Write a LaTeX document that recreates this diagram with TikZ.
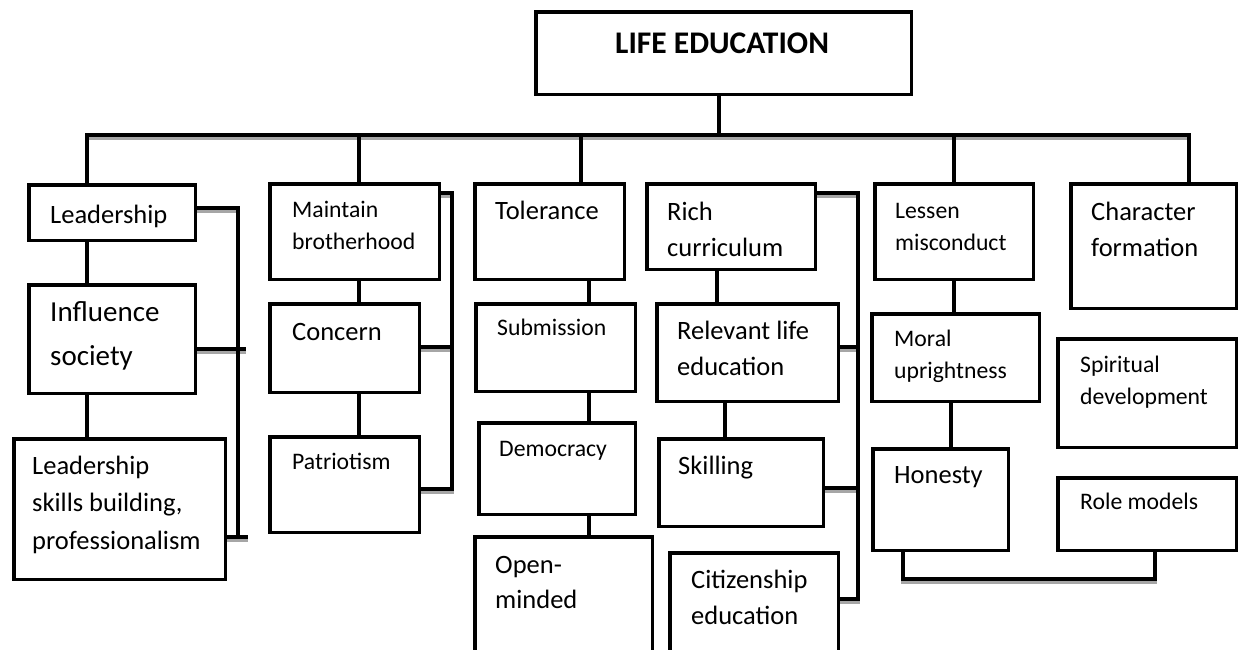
\documentclass[tikz,border=0pt]{standalone}
\usepackage{fontspec}
\setmainfont{Carlito}
\usepackage{tikz}
\usetikzlibrary{backgrounds}
\tikzstyle{box} = [draw, line width=3.5pt, fill=white, anchor=north west, inner sep=0pt]
\tikzstyle{conn} = [line width=3.8pt, line join=miter]
\tikzstyle{txt} = [anchor=base west, inner sep=0pt, text width=230pt, align=flush left, font=\fontsize{26.5}{36}\selectfont]
\tikzstyle{small} = [font=\fontsize{23.7}{32.5}\selectfont]

\begin{document}
\begin{tikzpicture}[x=1pt, y=-1pt]
\useasboundingbox (0,0) rectangle (1238,649);
\clip (0,0) rectangle (1238,649);
% Root
\node (top) [box, minimum width=375.5, minimum height=82.5] at (534,10) {};
\node (top_t) [txt, font=\bfseries\fontsize{31.5}{36}\selectfont] at (615,53) {LIFE EDUCATION};

% Column 1
\node (lead) [box, minimum width=166.5, minimum height=55.5] at (27,183) {};
\node (infl) [box, minimum width=166.5, minimum height=108.5] at (27,283) {};
\node (lead_skill) [box, minimum width=211.5, minimum height=140.5] at (12,437) {};
\node (lead_t) [txt] at (50,223) {Leadership};
\node (infl_t) [txt, font=\fontsize{29}{44}\selectfont] at (50,321) {Influence\\society};
\node (lead_skill_t) [txt, font=\fontsize{26.5}{37.5}\selectfont] at (32,474) {Leadership\\skills building,\\professionalism};

% Column 2
\node (maint) [box, minimum width=169.5, minimum height=95.5] at (268,182) {};
\node (concern) [box, minimum width=149.5, minimum height=88.5] at (268,302) {};
\node (patri) [box, minimum width=149.5, minimum height=95.5] at (268,435) {};
\node (maint_t) [txt, small] at (292,217) {Maintain\\brotherhood};
\node (concern_t) [txt] at (292,340) {Concern};
\node (patri_t) [txt, small] at (292,469) {Patriotism};

% Column 3
\node (toler) [box, minimum width=149.5, minimum height=95.5] at (473,182) {};
\node (subm) [box, minimum width=159.5, minimum height=87.5] at (474,302) {};
\node (democ) [box, minimum width=156.5, minimum height=91.5] at (477,421) {};
\node (openm) [box, minimum width=177.5, minimum height=130] at (473,535) {};
\node (toler_t) [txt] at (495,219) {Tolerance};
\node (subm_t) [txt, small] at (497,335) {Submission};
\node (democ_t) [txt, small] at (499,456) {Democracy};
\node (openm_t) [txt, font=\fontsize{26.5}{35}\selectfont] at (495,573) {Open-\\minded};

% Column 4
\node (rich) [box, minimum width=168.5, minimum height=85.5] at (645,182) {};
\node (relev) [box, minimum width=181.5, minimum height=97.5] at (655,302) {};
\node (skill) [box, minimum width=164.5, minimum height=87.5] at (657,437) {};
\node (citiz) [box, minimum width=168.5, minimum height=120] at (668,551) {};
\node (rich_t) [txt] at (667,220) {Rich\\curriculum};
\node (relev_t) [txt] at (677,339) {Relevant life\\education};
\node (skill_t) [txt] at (678,474) {Skilling};
\node (citiz_t) [txt] at (691,588) {Citizenship\\education};

% Column 5
\node (lessen) [box, minimum width=158.5, minimum height=95.5] at (873,182) {};
\node (moral) [box, minimum width=167.5, minimum height=87.5] at (870,312) {};
\node (honest) [box, minimum width=135.5, minimum height=101.5] at (871,447) {};
\node (lessen_t) [txt, small] at (895,218) {Lessen\\misconduct};
\node (moral_t) [txt, small] at (894,346) {Moral\\uprightness};
\node (honest_t) [txt] at (894,483) {Honesty};

% Column 6
\node (charac) [box, minimum width=165.5, minimum height=124.5] at (1069,182) {};
\node (spirit) [box, minimum width=178.5, minimum height=108.5] at (1056,337) {};
\node (role) [box, minimum width=178.5, minimum height=72.5] at (1056,476) {};
\node (charac_t) [txt] at (1091,220) {Character\\formation};
\node (spirit_t) [txt, small] at (1080,372) {Spiritual\\development};
\node (role_t) [txt, small] at (1080,509) {Role models};

% bus and bracket points
\coordinate (stem) at (719,135);
\coordinate (b1) at (87,135);
\coordinate (b2) at (359,135);
\coordinate (b3) at (581,135);
\coordinate (b5) at (954,135);
\coordinate (b6) at (1189,135);
\coordinate (c3) at (589,0);
\coordinate (c4a) at (717,0);
\coordinate (c4b) at (725,0);
\coordinate (c5) at (951,0);
\coordinate (k1t) at (238,208);
\coordinate (k1b) at (238,537);
\coordinate (k1m) at (246,349);
\coordinate (k1e) at (248,537);
\coordinate (k2t) at (452,193);
\coordinate (k2m) at (452,347);
\coordinate (k2b) at (452,489);
\coordinate (k4t) at (858,193);
\coordinate (k4m) at (858,347);
\coordinate (k4s) at (858,488);
\coordinate (k4b) at (858,599);
\coordinate (h1) at (903,579);
\coordinate (h2) at (1155,579);

\begin{pgfonlayer}{background}
\foreach \dy/\col in {-3/black!35, 0/black} {
\begin{scope}[transform canvas={yshift=\dy pt}, color=\col]
% tree
\draw[conn] (stem |- top.south) -- (stem);
\draw[conn] (b1 |- lead.north) -- (b1) -- (b6) -- (b6 |- charac.north);
\draw[conn] (b2) -- (b2 |- maint.north);
\draw[conn] (b3) -- (b3 |- toler.north);
\draw[conn] (b5) -- (b5 |- lessen.north);
\draw[conn] (b1 |- lead.south) -- (b1 |- infl.north);
\draw[conn] (b1 |- infl.south) -- (b1 |- lead_skill.north);
\draw[conn] (b2 |- maint.south) -- (b2 |- concern.north);
\draw[conn] (b2 |- concern.south) -- (b2 |- patri.north);
\draw[conn] (c3 |- toler.south) -- (c3 |- subm.north);
\draw[conn] (c3 |- subm.south) -- (c3 |- democ.north);
\draw[conn] (c3 |- democ.south) -- (c3 |- openm.north);
\draw[conn] (c4a |- rich.south) -- (c4a |- relev.north);
\draw[conn] (c4b |- relev.south) -- (c4b |- skill.north);
\draw[conn] (b5 |- lessen.south) -- (b5 |- moral.north);
\draw[conn] (c5 |- moral.south) -- (c5 |- honest.north);
% brackets
\draw[conn] (lead.east |- k1t) -- (k1t) -- (k1b);
\draw[conn] (infl.east |- k1m) -- (k1m);
\draw[conn] (lead_skill.east |- k1e) -- (k1e);
\draw[conn] (maint.east |- k2t) -- (k2t) -- (k2b) -- (patri.east |- k2b);
\draw[conn] (concern.east |- k2m) -- (k2m);
\draw[conn] (rich.east |- k4t) -- (k4t) -- (k4b) -- (citiz.east |- k4b);
\draw[conn] (relev.east |- k4m) -- (k4m);
\draw[conn] (skill.east |- k4s) -- (k4s);
\draw[conn] (h1 |- honest.south) -- (h1) -- (h2) -- (h2 |- role.south);
\end{scope}
}
\end{pgfonlayer}
\end{tikzpicture}
\end{document}
